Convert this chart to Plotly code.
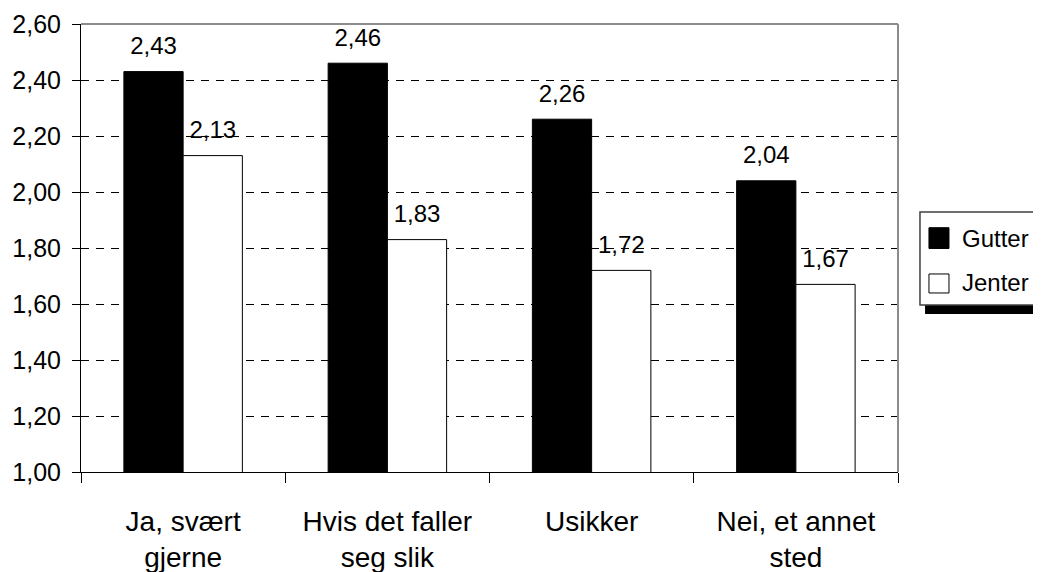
import plotly.graph_objects as go

categories = ["Ja, svært<br>gjerne", "Hvis det faller<br>seg slik", "Usikker", "Nei, et annet<br>sted"]
gutter = [2.43, 2.46, 2.26, 2.04]
jenter = [2.13, 1.83, 1.72, 1.67]
y_ticks = [1.0, 1.2, 1.4, 1.6, 1.8, 2.0, 2.2, 2.4, 2.6]
series_names = ["Gutter", "Jenter"]

FONT = "Liberation Sans, Arial, sans-serif"

fig = go.Figure()
fig.add_trace(go.Bar(x=categories, y=gutter, name=series_names[0], offsetgroup="g",
                     marker=dict(color="black", line=dict(color="black", width=1)),
                     showlegend=False))
fig.add_trace(go.Bar(x=categories, y=jenter, name=series_names[1], offsetgroup="j",
                     marker=dict(color="white", line=dict(color="black", width=1)),
                     showlegend=False))
# value labels
for vals, grp in ((gutter, "g"), (jenter, "j")):
    fig.add_trace(go.Scatter(x=categories, y=vals, offsetgroup=grp, mode="markers+text",
                             text=[f"{v:.2f}".replace(".", ",") for v in vals],
                             textposition="top center",
                             marker=dict(size=17, opacity=0),
                             textfont=dict(family=FONT, size=24, color="black"),
                             cliponaxis=False, showlegend=False, hoverinfo="skip"))

fig.update_layout(
    width=1041, height=572,
    margin=dict(l=73, r=151, t=16, b=108),
    paper_bgcolor="white", plot_bgcolor="white",
    barmode="group", bargap=0.42, bargroupgap=0,
    scattermode="group", scattergap=0.42,
    separators=", ",
    font=dict(family=FONT, color="black"),
    showlegend=False,
)
fig.update_yaxes(range=[1.0, 2.6], tickvals=y_ticks, tickformat=".2f", automargin=False,
                 showgrid=True, gridcolor="black", gridwidth=1, griddash="8px,7px",
                 showline=True, linecolor="black", linewidth=1,
                 ticks="outside", ticklen=8, tickcolor="black", tickwidth=1,
                 tickfont=dict(family=FONT, size=25, color="black"),
                 ticklabelstandoff=6, zeroline=False)
fig.update_xaxes(showline=True, linecolor="black", linewidth=1, automargin=False,
                 ticks="outside", tickson="boundaries", ticklen=10, tickcolor="black", tickwidth=1,
                 tickfont=dict(family=FONT, size=28, color="black"),
                 ticklabelstandoff=24,
                 showgrid=False, zeroline=False)

# grey top/right border
fig.add_shape(type="line", xref="paper", yref="paper", x0=0, x1=1, y0=1, y1=1,
              line=dict(color="#8c8c8c", width=2))
fig.add_shape(type="line", xref="paper", yref="paper", x0=1, x1=1, y0=0, y1=1,
              line=dict(color="#8c8c8c", width=2))

# legend (drawn manually)
fig.add_shape(type="rect", xref="paper", yref="paper", x0=1.0331, x1=1.2, y0=0.3527, y1=0.3728,
              line=dict(width=0), fillcolor="black")
fig.add_shape(type="rect", xref="paper", yref="paper", x0=1.0269, x1=1.2, y0=0.3728, y1=0.5804,
              line=dict(color="#404040", width=1.5), fillcolor="white")
fig.add_shape(type="rect", xref="paper", yref="paper", x0=1.0379, x1=1.0624, y0=0.4989, y1=0.5453,
              line=dict(color="black", width=1), fillcolor="black")
fig.add_shape(type="rect", xref="paper", yref="paper", x0=1.0379, x1=1.0624, y0=0.3996, y1=0.4420,
              line=dict(color="black", width=1), fillcolor="white")
fig.add_annotation(xref="paper", yref="paper", x=1.0759, y=0.5223, xanchor="left", yanchor="middle",
                   text=series_names[0], showarrow=False, font=dict(family=FONT, size=24, color="black"))
fig.add_annotation(xref="paper", yref="paper", x=1.0759, y=0.4219, xanchor="left", yanchor="middle",
                   text=series_names[1], showarrow=False, font=dict(family=FONT, size=24, color="black"))

fig.write_html("out.html")
